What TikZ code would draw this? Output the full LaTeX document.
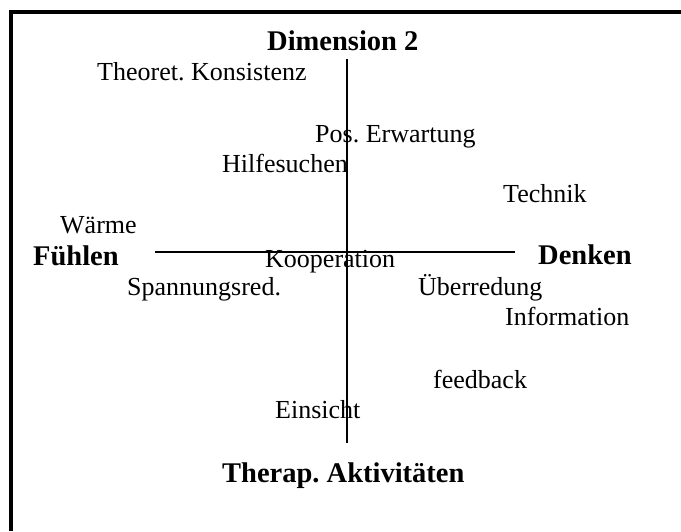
\documentclass[tikz,border=0pt]{standalone}
\usepackage{fontspec}
\setmainfont{Liberation Serif}
\usepackage{tikz}
\usetikzlibrary{positioning, calc}
\frenchspacing
\tikzset{
  axislabel/.style={
    anchor=base west, inner sep=0pt,
    font=\fontsize{28.5}{30}\selectfont\bfseries
  },
  item/.style={
    anchor=base west, inner sep=0pt,
    font=\fontsize{26}{28}\selectfont
  },
  axis/.style={line width=2pt},
  frame/.style={line width=4pt, line join=miter}
}

\begin{document}
\begin{tikzpicture}[x=1pt, y=-1pt]
\useasboundingbox (0,0) rectangle (681,531);

%% frame (left and top edge)
\coordinate (fbl) at (11,531);
\coordinate (ftl) at (11,12);
\coordinate (ftr) at (681,12);
\draw[frame] (fbl) -- (ftl) -- (ftr);

%% axes
\coordinate (vtop) at (347,59);
\coordinate (vbot) at (347,443);
\coordinate (hleft) at (155,252);
\coordinate (hright) at (515,252);
\draw[axis] (vtop) -- (vbot);
\draw[axis] (hleft) -- (hright);

%% axis labels
\node[axislabel] (dim) at (267,50) {Dimension 2};
\node[axislabel] (fuehlen) at (33,265) {Fühlen};
\node[axislabel] (denken) at (538,264) {Denken};
\node[axislabel] (therap) at (222,482) {Therap. Aktivitäten};

%% items
\node[item] (konsistenz) at (97,80) {Theoret. Konsistenz};
\node[item] (erwartung) at (315,142) {Pos. Erwartung};
\node[item] (hilfe) at (222,172) {Hilfesuchen};
\node[item] (technik) at (503,202) {Technik};
\node[item] (waerme) at (60,233) {Wärme};
\node[item] (koop) at (265,267) {Kooperation};
\node[item] (spannung) at (127,295) {Spannungsred.};
\node[item] (ueberred) at (418,295) {Überredung};
\node[item] (info) at (505,325) {Information};
\node[item] (feedback) at (433,388) {feedback};
\node[item] (einsicht) at (275,418) {Einsicht};

\end{tikzpicture}
\end{document}
